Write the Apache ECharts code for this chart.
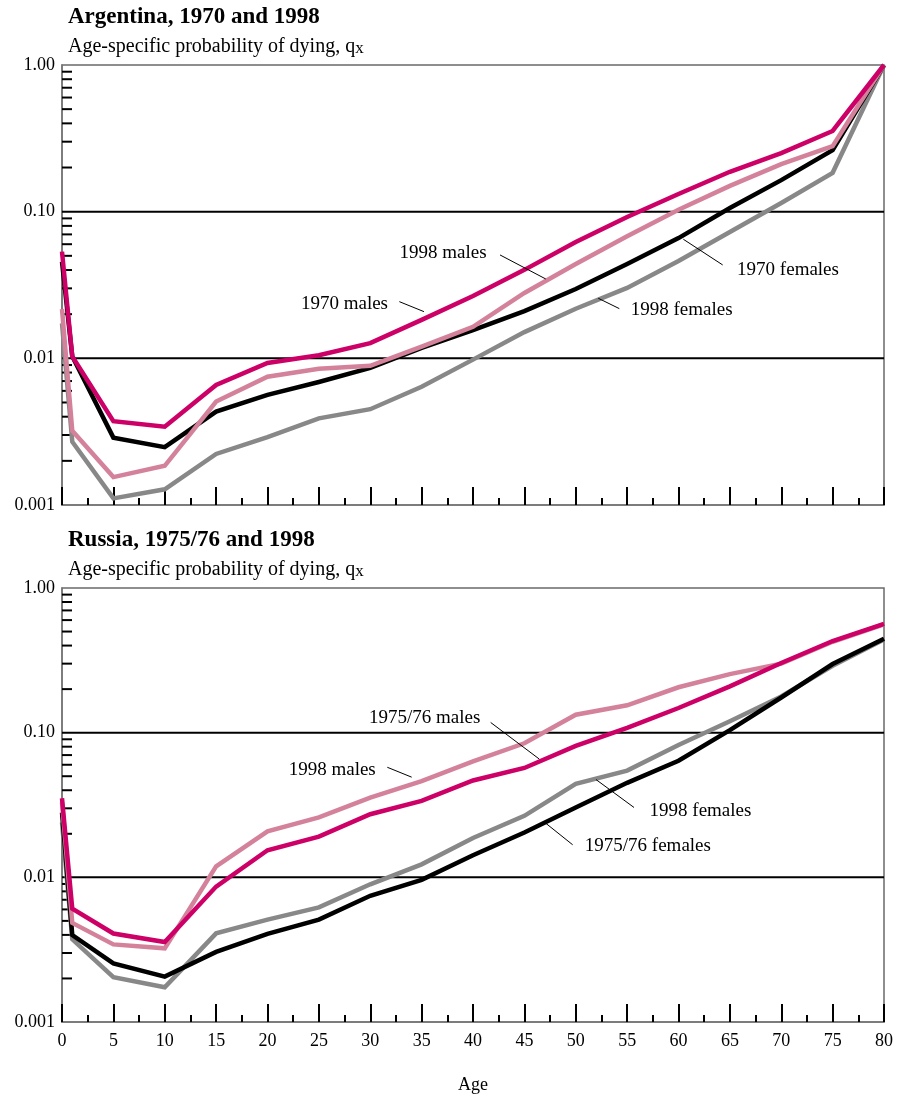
<!DOCTYPE html>
<html>
<head>
<meta charset="utf-8">
<style>
  html, body { margin: 0; padding: 0; background: #ffffff; }
  #chart { width: 902px; height: 1095px; }
</style>
<script src="https://cdn.jsdelivr.net/npm/echarts@6/dist/echarts.min.js"></script>
</head>
<body>
<div id="chart"></div>
<script>
// Ages at which q(x) is given
const ages = [0, 1, 5, 10, 15, 20, 25, 30, 35, 40, 45, 50, 55, 60, 65, 70, 75, 80];

// Argentina, age-specific probability of dying
const argMales1970   = [0.0534, 0.0103, 0.00373, 0.00342, 0.00659, 0.0093, 0.0105, 0.0127, 0.0183, 0.0266, 0.0401, 0.0621, 0.092, 0.132, 0.187, 0.251, 0.355, 1.0];
const argMales1998   = [0.0217, 0.00321, 0.00155, 0.00185, 0.00507, 0.0075, 0.0085, 0.0089, 0.012, 0.0164, 0.0279, 0.044, 0.068, 0.103, 0.15, 0.211, 0.28, 1.0];
const argFemales1970 = [0.0456, 0.0103, 0.00288, 0.00248, 0.00433, 0.00563, 0.0069, 0.0086, 0.0118, 0.0156, 0.021, 0.0297, 0.044, 0.066, 0.106, 0.164, 0.263, 1.0];
const argFemales1998 = [0.0173, 0.0027, 0.00111, 0.00128, 0.00223, 0.0029, 0.0039, 0.0045, 0.0064, 0.0098, 0.0151, 0.0218, 0.0302, 0.0461, 0.0727, 0.1146, 0.184, 1.0];

// Russia, age-specific probability of dying
const rusMales1976   = [0.0352, 0.00607, 0.00409, 0.00357, 0.00863, 0.0154, 0.0191, 0.0273, 0.0338, 0.0467, 0.057, 0.081, 0.108, 0.148, 0.209, 0.303, 0.43, 0.565];
const rusMales1998   = [0.033, 0.00484, 0.00344, 0.00323, 0.0119, 0.0208, 0.026, 0.0356, 0.0462, 0.0634, 0.0845, 0.133, 0.1545, 0.206, 0.254, 0.30, 0.425, 0.56];
const rusFemales1976 = [0.028, 0.00399, 0.00254, 0.00206, 0.00305, 0.00407, 0.0051, 0.00745, 0.0096, 0.0142, 0.0204, 0.0304, 0.045, 0.064, 0.104, 0.175, 0.298, 0.446];
const rusFemales1998 = [0.024, 0.00373, 0.00204, 0.00174, 0.0041, 0.0051, 0.0062, 0.00895, 0.0123, 0.0187, 0.0266, 0.0443, 0.0547, 0.0823, 0.12, 0.178, 0.29, 0.44];

// Axis text
const yTickLabels = ['0.001', '0.01', '0.10', '1.00'];
const yMinorTicks = [0.002, 0.003, 0.004, 0.005, 0.006, 0.007, 0.008, 0.009,
                     0.02, 0.03, 0.04, 0.05, 0.06, 0.07, 0.08, 0.09,
                     0.2, 0.3, 0.4, 0.5, 0.6, 0.7, 0.8, 0.9];
const yGridValues = [0.1, 0.01];
const xTitle = 'Age';
const subTitle = 'Age-specific probability of dying, q';

// Line labels: text centre and leader line, in (age, q) coordinates
const argNotes = [
  { text: '1998 males',   at: [37.08, 0.05254], from: [42.63, 0.05069], to: [47.08, 0.03476] },
  { text: '1970 males',   at: [27.49, 0.02349], from: [32.83, 0.02435], to: [35.23, 0.02081] },
  { text: '1998 females', at: [60.31, 0.02138], from: [54.24, 0.02182], to: [52.19, 0.02568] },
  { text: '1970 females', at: [70.66, 0.04004], from: [64.30, 0.04333], to: [60.47, 0.06484] }
];
const rusNotes = [
  { text: '1975/76 males',   at: [35.30, 0.1253],  from: [41.72, 0.1176],  to: [46.45, 0.0657] },
  { text: '1998 males',      at: [26.30, 0.05551], from: [31.66, 0.05765], to: [34.03, 0.04925] },
  { text: '1998 females',    at: [62.14, 0.02884], from: [55.67, 0.0304],  to: [51.97, 0.04742] },
  { text: '1975/76 females', at: [57.02, 0.01637], from: [49.70, 0.01679], to: [47.10, 0.0236] }
];

const FONT = '"Liberation Serif", "Times New Roman", serif';
const COLORS = { magenta: '#cc0066', pink: '#d4829b', gray: '#888888', black: '#000000' };

const panels = [
  {
    title: 'Argentina, 1970 and 1998',
    top: 65, height: 440, titleY: 19, subY: 50,
    lines: [
      { values: argFemales1998, color: COLORS.gray },
      { values: argFemales1970, color: COLORS.black },
      { values: argMales1998,   color: COLORS.pink },
      { values: argMales1970,   color: COLORS.magenta }
    ],
    notes: argNotes,
    showXLabels: false
  },
  {
    title: 'Russia, 1975/76 and 1998',
    top: 588, height: 439, titleY: 542, subY: 573,
    lines: [
      { values: rusFemales1998, color: COLORS.gray },
      { values: rusFemales1976, color: COLORS.black },
      { values: rusMales1998,   color: COLORS.pink },
      { values: rusMales1976,   color: COLORS.magenta }
    ],
    notes: rusNotes,
    showXLabels: true
  }
];

const grids = [], xAxes = [], yAxes = [], series = [], graphics = [];

panels.forEach((p, i) => {
  grids.push({
    left: 62, top: p.top, width: 822, height: p.height,
    show: true, borderColor: '#6a6a6a', borderWidth: 1.5, backgroundColor: 'transparent'
  });

  xAxes.push({
    gridIndex: i, type: 'value', min: 0, max: 80, interval: 5,
    axisLine: { show: true, onZero: false, lineStyle: { color: '#777', width: 1.5 } },
    axisTick: { show: true, inside: true, length: 18, lineStyle: { color: '#000', width: 2 } },
    minorTick: { show: true, splitNumber: 2, length: 7, lineStyle: { color: '#000', width: 2 } },
    splitLine: { show: false },
    minorSplitLine: { show: false },
    axisLabel: {
      show: p.showXLabels, margin: 10, color: '#000',
      fontSize: 18, fontFamily: FONT
    },
    name: p.showXLabels ? xTitle : '',
    nameLocation: 'middle', nameGap: 54,
    nameTextStyle: { color: '#000', fontSize: 18, fontFamily: FONT }
  });

  yAxes.push({
    gridIndex: i, type: 'log', logBase: 10, min: 0.001, max: 1,
    axisLine: { show: true, lineStyle: { color: '#777', width: 1.5 } },
    axisTick: { show: false },
    splitLine: { show: false },
    axisLabel: {
      margin: 7, color: '#000', fontSize: 18, fontFamily: FONT,
      formatter: v => yTickLabels[Math.round(Math.log10(v)) + 3]
    }
  });

  // horizontal rules at 0.10 and 0.01
  series.push({
    type: 'custom', xAxisIndex: i, yAxisIndex: i, silent: true, z: 1,
    data: yGridValues.map(v => [0, v]),
    renderItem: (params, api) => {
      const a = api.coord([0, api.value(1)]);
      const b = api.coord([80, api.value(1)]);
      return { type: 'line', shape: { x1: a[0], y1: a[1], x2: b[0], y2: b[1] },
               style: { stroke: '#000', lineWidth: 2 } };
    }
  });

  // minor ticks on the log axis
  series.push({
    type: 'custom', xAxisIndex: i, yAxisIndex: i, silent: true, z: 1,
    data: yMinorTicks.map(v => [0, v]),
    renderItem: (params, api) => {
      const a = api.coord([0, api.value(1)]);
      return { type: 'line', shape: { x1: a[0], y1: a[1], x2: a[0] + 10, y2: a[1] },
               style: { stroke: '#000', lineWidth: 2 } };
    }
  });

  p.lines.forEach(l => {
    series.push({
      type: 'line', xAxisIndex: i, yAxisIndex: i, silent: true, z: 2,
      data: ages.map((a, k) => [a, l.values[k]]),
      symbol: 'none', showSymbol: false,
      lineStyle: { color: l.color, width: 4.5, join: 'miter' },
      itemStyle: { color: l.color }
    });
  });

  // line labels with leader lines
  const notes = p.notes;
  series.push({
    type: 'custom', xAxisIndex: i, yAxisIndex: i, silent: true, z: 3,
    data: notes.map(n => [n.at[0], n.at[1]]),
    renderItem: (params, api) => {
      const n = notes[params.dataIndex];
      const t = api.coord(n.at), a = api.coord(n.from), b = api.coord(n.to);
      return {
        type: 'group',
        children: [
          { type: 'text', x: t[0], y: t[1],
            style: { text: n.text, fill: '#000', fontSize: 19, fontFamily: FONT,
                     align: 'center', verticalAlign: 'middle' } },
          { type: 'line', shape: { x1: a[0], y1: a[1], x2: b[0], y2: b[1] },
            style: { stroke: '#000', lineWidth: 1 } }
        ]
      };
    }
  });

  graphics.push({
    type: 'text', left: 68, top: p.titleY - 13,
    style: { text: p.title, fill: '#000', fontSize: 23, fontWeight: 'bold', fontFamily: FONT }
  });
  graphics.push({
    type: 'text', left: 68, top: p.subY - 13,
    style: {
      text: '{a|' + subTitle + '}{b|x}', fill: '#000',
      rich: {
        a: { fontSize: 20, fontFamily: FONT, lineHeight: 24, verticalAlign: 'bottom', color: '#000' },
        b: { fontSize: 17, fontFamily: FONT, lineHeight: 17, verticalAlign: 'bottom', color: '#000' }
      }
    }
  });
});

const chart = echarts.init(document.getElementById('chart'), null, { renderer: 'canvas' });
chart.setOption({
  animation: false,
  backgroundColor: '#ffffff',
  grid: grids,
  xAxis: xAxes,
  yAxis: yAxes,
  series: series,
  graphic: graphics
});
</script>
</body>
</html>
